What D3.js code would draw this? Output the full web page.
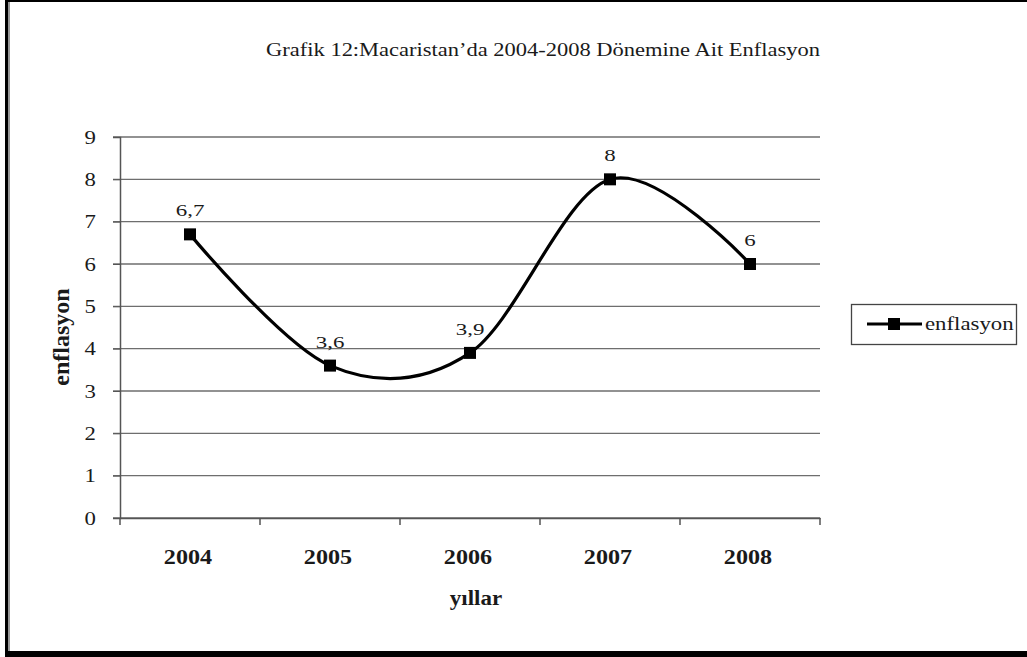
<!DOCTYPE html>
<html><head><meta charset="utf-8">
<script src="https://cdn.jsdelivr.net/npm/d3@7"></script>
<style>body{margin:0;background:#fff}svg{display:block}</style>
</head><body>
<script>
const categories = ["2004","2005","2006","2007","2008"];
const values = [6.7, 3.6, 3.9, 8, 6];
const valueLabels = ["6,7","3,6","3,9","8","6"];
const yTicks = [0,1,2,3,4,5,6,7,8,9];
const titleText = "Grafik 12:Macaristan\u2019da 2004-2008 Dönemine Ait Enflasyon";
const xTitle = "yıllar";
const yTitle = "enflasyon";
const seriesName = "enflasyon";

const W = 1027, H = 657;
const svg = d3.select("body").append("svg").attr("width", W).attr("height", H);
const font = "'Liberation Serif','Times New Roman',serif";

function stext(parent, x, y, str, size, sx, anchor, weight) {
  const g = parent.append("g").attr("transform", `translate(${x},${y}) scale(${sx},1)`);
  g.append("text").attr("text-anchor", anchor).attr("font-family", font)
    .attr("font-size", size).attr("font-weight", weight || "normal").attr("fill", "#1a1a1a").text(str);
  return g;
}

// outer frame
svg.append("rect").attr("x",5).attr("y",0).attr("width",3).attr("height",657).attr("fill","#000");
svg.append("rect").attr("x",8).attr("y",0).attr("width",2).attr("height",651).attr("fill","#999");
svg.append("rect").attr("x",5).attr("y",0).attr("width",1022).attr("height",2).attr("fill","#000");
svg.append("rect").attr("x",5).attr("y",651).attr("width",1022).attr("height",6).attr("fill","#000");

const L = 120, R = 820, T = 137, B = 518;
const x = d3.scaleBand().domain(categories).range([L, R]).paddingInner(0).paddingOuter(0);
const y = d3.scaleLinear().domain([0, 9]).range([B, T]);

// gridlines
svg.append("g").selectAll("line").data(yTicks).join("line")
  .attr("x1", L - 7).attr("x2", R).attr("y1", d => y(d)).attr("y2", d => y(d))
  .attr("stroke", "#6e6e6e").attr("stroke-width", 1.3);

// y axis
const yAxis = svg.append("g").attr("transform", `translate(${L},0)`)
  .call(d3.axisLeft(y).tickValues(yTicks).tickSize(7).tickFormat(""));
yAxis.select(".domain").attr("stroke", "#555").attr("stroke-width", 1.5);
yAxis.selectAll(".tick line").attr("stroke", "#555");
const yl = svg.append("g");
yTicks.forEach(t => stext(yl, 96, y(t) + 6.5, String(t), 19, 1.2, "end"));

// x axis
const xAxis = svg.append("g").attr("transform", `translate(0,${B})`)
  .call(d3.axisBottom(x).tickSize(0).tickFormat(""));
xAxis.select(".domain").attr("stroke", "#555").attr("stroke-width", 1.5);
const bounds = categories.map(c => x(c)).concat([R]);
svg.append("g").selectAll("line").data(bounds).join("line")
  .attr("x1", d => d).attr("x2", d => d).attr("y1", B).attr("y2", B + 7)
  .attr("stroke", "#555").attr("stroke-width", 1.5);

const cx = c => x(c) + x.bandwidth() / 2;
const xl = svg.append("g");
categories.forEach(c => stext(xl, cx(c) - 2, 564, c, 21, 1.15, "middle", "bold"));

const pts = categories.map((c, i) => [cx(c), y(values[i])]);

svg.append("path").attr("d", d3.line().curve(d3.curveCardinal.tension(0))(pts))
  .attr("fill", "none").attr("stroke", "#000").attr("stroke-width", 3.2);

svg.append("g").selectAll("rect").data(pts).join("rect")
  .attr("x", d => d[0] - 6).attr("y", d => d[1] - 6).attr("width", 12).attr("height", 12).attr("fill", "#000");

const vl = svg.append("g");
pts.forEach((p, i) => stext(vl, p[0], p[1] - 18, valueLabels[i], 17, 1.35, "middle"));

// titles
stext(svg, 543, 56, titleText, 18, 1.25, "middle");
stext(svg, 476, 605, xTitle, 20, 1.15, "middle", "bold");
svg.append("text").attr("transform", "translate(69,337) rotate(-90)").attr("text-anchor", "middle")
  .attr("font-family", font).attr("font-size", 24).attr("font-weight", "bold").attr("fill", "#1a1a1a").text(yTitle);

// legend
const lg = svg.append("g");
lg.append("rect").attr("x", 851.5).attr("y", 304.5).attr("width", 165).attr("height", 40)
  .attr("fill", "#fff").attr("stroke", "#444").attr("stroke-width", 1.3);
lg.append("line").attr("x1", 867).attr("x2", 922).attr("y1", 324).attr("y2", 324)
  .attr("stroke", "#000").attr("stroke-width", 3.2);
lg.append("rect").attr("x", 888).attr("y", 318).attr("width", 12).attr("height", 12).attr("fill", "#000");
stext(lg, 925, 330, seriesName, 19, 1.2, "start");
</script>
</body></html>
